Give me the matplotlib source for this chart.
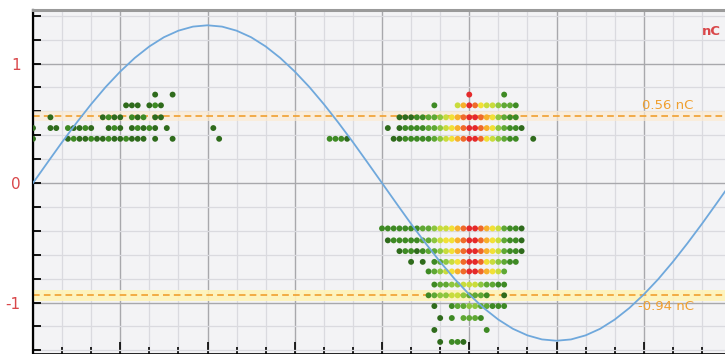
import matplotlib
matplotlib.use('Agg')
import matplotlib.pyplot as plt
from matplotlib.colors import ListedColormap, BoundaryNorm
from matplotlib.ticker import MultipleLocator, FixedLocator, NullFormatter

# --- reference sine (phase in degrees, charge in nC) ---
sine_phase = [0, 7.5, 15, 22.5, 30, 37.5, 45, 52.5, 60, 67.5, 75, 82.5, 90,
              97.5, 105, 112.5, 120, 127.5, 135, 142.5, 150, 157.5, 165, 172.5, 180,
              187.5, 195, 202.5, 210, 217.5, 225, 232.5, 240, 247.5, 255, 262.5, 270,
              277.5, 285, 292.5, 300, 307.5, 315, 322.5, 330, 337.5, 345, 352.5, 360]
sine_value = [0.0, 0.172, 0.342, 0.505, 0.660, 0.804, 0.933, 1.047, 1.143, 1.220, 1.275, 1.309, 1.320,
              1.309, 1.275, 1.220, 1.143, 1.047, 0.933, 0.804, 0.660, 0.505, 0.342, 0.172, 0.0,
              -0.172, -0.342, -0.505, -0.660, -0.804, -0.933, -1.047, -1.143, -1.220, -1.275, -1.309, -1.320,
              -1.309, -1.275, -1.220, -1.143, -1.047, -0.933, -0.804, -0.660, -0.505, -0.342, -0.172, 0.0]

# --- thresholds (nC) ---
upper_threshold = 0.56
lower_threshold = -0.94

# --- pulse pattern: amplitude level of each row, phases (deg) and pulse counts ---
levels = [0.74, 0.65, 0.55, 0.46, 0.37,
          -0.38, -0.48, -0.57, -0.66, -0.74, -0.85, -0.94, -1.03, -1.13, -1.23, -1.33]

row_phases = [
    [63, 72, 225, 243],
    [48, 51, 54, 60, 63, 66,
     207, 219, 222, 225, 228, 231, 234, 237, 240, 243, 246, 249],
    [9, 36, 39, 42, 45, 51, 54, 57, 63, 66,
     189, 192, 195, 198, 201, 204, 207, 210, 213, 216, 219, 222, 225, 228, 231, 234,
     237, 240, 243, 246, 249],
    [0, 9, 12, 18, 21, 24, 27, 30, 39, 42, 45, 51, 54, 57, 60, 63, 69, 93,
     183, 189, 192, 195, 198, 201, 204, 207, 210, 213, 216, 219, 222, 225, 228, 231,
     234, 237, 240, 243, 246, 249, 252],
    [0, 18, 21, 24, 27, 30, 33, 36, 39, 42, 45, 48, 51, 54, 57, 63, 72, 96,
     153, 156, 159, 162,
     186, 189, 192, 195, 198, 201, 204, 207, 210, 213, 216, 219, 222, 225, 228, 231,
     234, 237, 240, 243, 246, 249, 258],
    [180, 183, 186, 189, 192, 195, 198, 201, 204, 207, 210, 213, 216, 219, 222, 225,
     228, 231, 234, 237, 240, 243, 246, 249, 252],
    [183, 186, 189, 192, 195, 198, 201, 204, 207, 210, 213, 216, 219, 222, 225, 228,
     231, 234, 237, 240, 243, 246, 249, 252],
    [189, 192, 195, 198, 201, 204, 207, 210, 213, 216, 219, 222, 225, 228, 231, 234,
     237, 240, 243, 246, 249, 252],
    [195, 201, 207, 210, 213, 216, 219, 222, 225, 228, 231, 234, 237, 240, 243, 246, 249],
    [204, 207, 210, 213, 216, 219, 222, 225, 228, 231, 234, 237, 240, 243],
    [207, 210, 213, 216, 219, 222, 225, 228, 231, 234, 237, 240, 243],
    [204, 207, 210, 213, 216, 219, 222, 225, 228, 231, 234, 243],
    [207, 216, 219, 222, 225, 228, 231, 234, 237, 240, 243],
    [210, 216, 222, 225, 228, 231],
    [207, 234],
    [210, 216, 219, 222],
]

row_counts = [
    [1, 1, 9, 2],
    [1, 1, 1, 1, 2, 1,
     2, 5, 7, 9, 8, 6, 5, 5, 4, 3, 3, 2],
    [1, 1, 2, 1, 1, 2, 1, 2, 1, 1,
     1, 1, 1, 2, 2, 3, 3, 4, 5, 6, 7, 8, 9, 9, 8, 7, 6, 4, 3, 2, 2],
    [1, 1, 1, 2, 1, 1, 2, 1, 1, 2, 1, 1, 2, 1, 2, 1, 1, 1,
     1, 1, 2, 2, 2, 2, 3, 3, 4, 5, 6, 7, 8, 9, 9, 8, 7, 6, 4, 3, 2, 2, 1],
    [1, 1, 2, 1, 1, 2, 1, 1, 2, 1, 1, 2, 1, 1, 1, 1, 1, 1,
     2, 2, 2, 1,
     1, 1, 2, 2, 2, 2, 2, 3, 4, 5, 6, 7, 8, 9, 9, 8, 6, 5, 4, 3, 2, 2, 1],
    [2, 2, 2, 2, 2, 2, 2, 3, 3, 4, 5, 5, 6, 7, 8, 9, 9, 8, 7, 6, 5, 3, 2, 2, 1],
    [1, 2, 2, 2, 2, 2, 3, 3, 4, 5, 6, 6, 7, 8, 9, 9, 8, 7, 6, 5, 3, 2, 2, 1],
    [1, 2, 2, 1, 2, 3, 3, 4, 5, 6, 7, 8, 9, 9, 8, 7, 6, 5, 3, 2, 2, 1],
    [1, 1, 2, 3, 4, 5, 6, 8, 9, 9, 8, 6, 5, 4, 3, 2, 2],
    [2, 3, 4, 5, 6, 7, 8, 9, 9, 8, 7, 6, 5, 3],
    [2, 3, 3, 4, 4, 5, 5, 5, 4, 3, 3, 2, 2],
    [2, 3, 4, 4, 5, 5, 4, 3, 3, 3, 2, 1],
    [1, 2, 3, 3, 4, 4, 3, 3, 2, 2, 2],
    [1, 2, 3, 3, 3, 2],
    [1, 2],
    [1, 2, 2, 1],
]

# colours
bg_color = '#F3F3F5'
grid_minor = '#DADADF'
grid_major = '#A8A8AC'
sine_color = '#6FA8DC'
thr_color = '#F0A030'
label_red = '#D9474A'
density_colors = ['#2F6B1C', '#3E8A24', '#5FA834', '#8DC63F', '#C9DC3C',
                  '#F2E036', '#F7B02C', '#EF6A2A', '#E5292A']

fig = plt.figure(figsize=(7.25, 3.54), dpi=100)
fig.patch.set_facecolor('white')
ax = fig.add_axes([33 / 725, 0.0, 692 / 725, 344 / 354])
ax.set_facecolor(bg_color)

ax.set_xlim(0, 356.9)
ax.set_ylim(-1.431, 1.448)

# grid
ax.xaxis.set_major_locator(MultipleLocator(45))
ax.xaxis.set_minor_locator(MultipleLocator(15))
ax.yaxis.set_major_locator(FixedLocator([-1, 0, 1]))
ax.yaxis.set_minor_locator(MultipleLocator(0.2))
ax.grid(which='minor', color=grid_minor, linewidth=0.9, zorder=0)
ax.grid(which='major', color=grid_major, linewidth=1.0, zorder=0)
ax.set_axisbelow(True)

# threshold bands and lines
ax.axhspan(upper_threshold - 0.045, upper_threshold + 0.04, color='#FCEBD2', alpha=0.7, zorder=1, lw=0)
ax.axhspan(lower_threshold - 0.05, lower_threshold + 0.045, color='#FFF3B8', alpha=0.9, zorder=1, lw=0)
for thr in (upper_threshold, lower_threshold):
    ax.axhline(thr, color=thr_color, linewidth=1.2, linestyle=(0, (4, 2.5)), zorder=2)

# pulse pattern
xs, ys, cs = [], [], []
for lvl, ph, cnt in zip(levels, row_phases, row_counts):
    xs += ph
    ys += [lvl] * len(ph)
    cs += cnt
cmap = ListedColormap(density_colors)
norm = BoundaryNorm([0.5 + i for i in range(10)], cmap.N)
ax.scatter(xs, ys, c=cs, cmap=cmap, norm=norm, s=18, edgecolors='none', zorder=3)

# reference sine
ax.plot(sine_phase, sine_value, color=sine_color, linewidth=1.3, zorder=4)

# labels
ax.text(314, upper_threshold + 0.035, '0.56 nC', color=thr_color, fontsize=9.5,
        ha='left', va='bottom', zorder=5)
ax.text(312, lower_threshold - 0.04, '-0.94 nC', color=thr_color, fontsize=9.5,
        ha='left', va='top', zorder=5)
ax.text(355, 1.27, 'nC', color=label_red, fontsize=9.5, fontweight='semibold',
        ha='right', va='center', zorder=5)

# axes styling
ax.tick_params(axis='y', which='both', direction='in', length=6, width=1.3,
               color='black', labelcolor=label_red, labelsize=11, pad=9)
ax.tick_params(axis='x', which='major', direction='in', length=9, width=1.2, color='black')
ax.tick_params(axis='x', which='minor', direction='in', length=5, width=1.2, color='black')
ax.xaxis.set_major_formatter(NullFormatter())
ax.yaxis.set_minor_formatter(NullFormatter())
ax.set_yticklabels(['-1', '0', '1'])

ax.spines['right'].set_visible(False)
ax.spines['left'].set_color('black')
ax.spines['left'].set_linewidth(1.6)
ax.spines['top'].set_color('#9A9A9A')
ax.spines['top'].set_linewidth(2.2)
ax.spines['bottom'].set_color('black')
ax.spines['bottom'].set_linewidth(1.2)

fig.savefig('out.png', dpi=100, facecolor='white')
